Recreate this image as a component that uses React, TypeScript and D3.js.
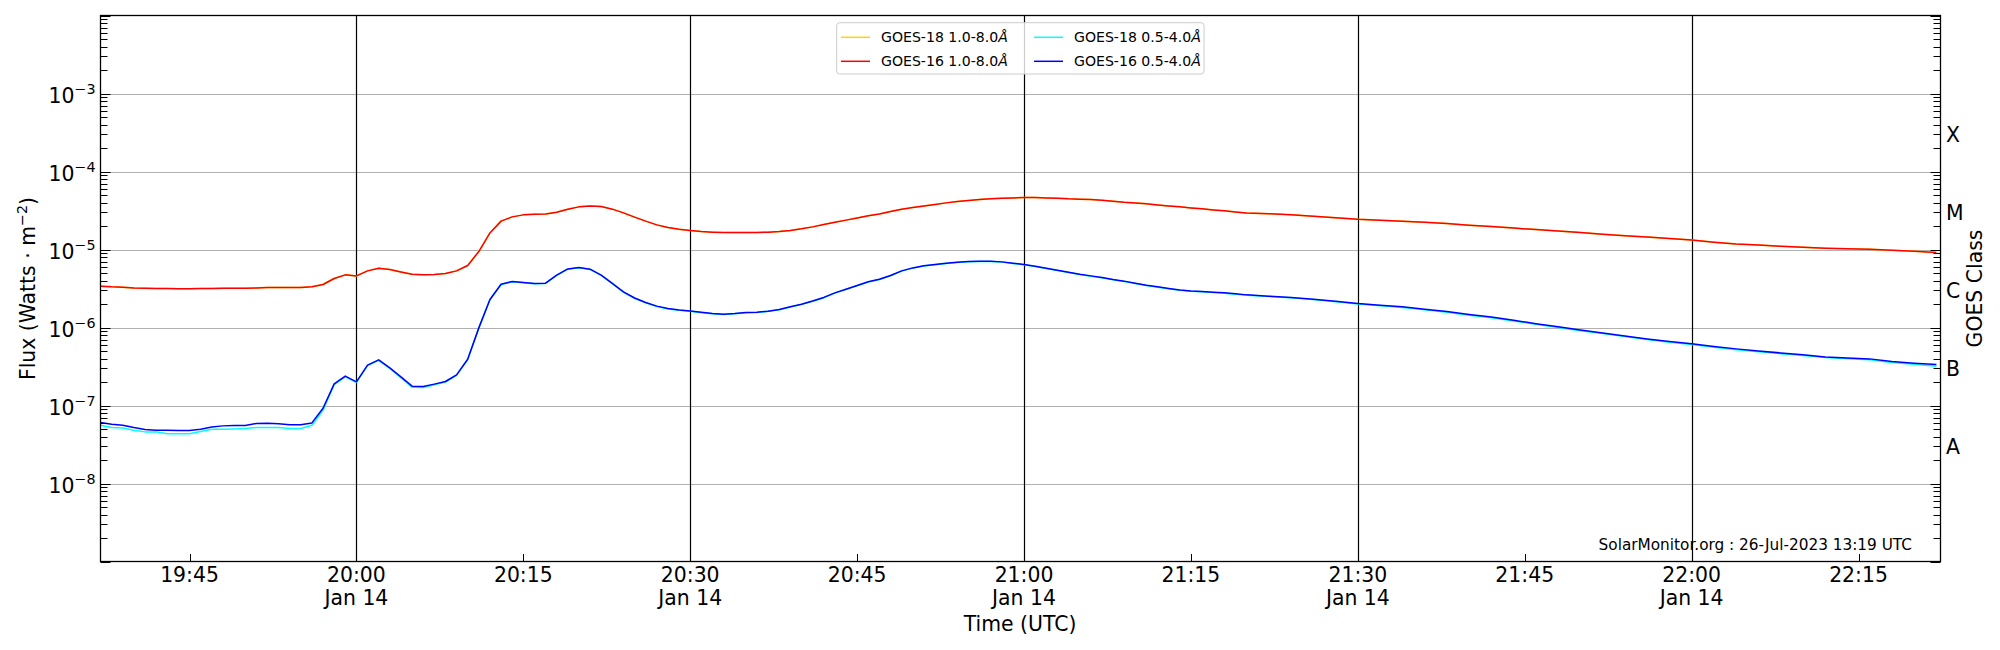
import React from 'react';
import * as d3 from 'd3';

// one-minute samples up to 21:20, then every second minute
const times = [
  '19:37', '19:38', '19:39', '19:40', '19:41', '19:42', '19:43', '19:44', '19:45', '19:46', '19:47', '19:48',
  '19:49', '19:50', '19:51', '19:52', '19:53', '19:54', '19:55', '19:56', '19:57', '19:58', '19:59',
  '20:00', '20:01', '20:02', '20:03', '20:04', '20:05', '20:06', '20:07', '20:08', '20:09',
  '20:10', '20:11', '20:12', '20:13', '20:14', '20:15', '20:16', '20:17', '20:18', '20:19',
  '20:20', '20:21', '20:22', '20:23', '20:24', '20:25', '20:26', '20:27', '20:28', '20:29',
  '20:30', '20:31', '20:32', '20:33', '20:34', '20:35', '20:36', '20:37', '20:38', '20:39',
  '20:40', '20:41', '20:42', '20:43', '20:44', '20:45', '20:46', '20:47', '20:48', '20:49',
  '20:50', '20:51', '20:52', '20:53', '20:54', '20:55', '20:56', '20:57', '20:58', '20:59',
  '21:00', '21:01', '21:02', '21:03', '21:04', '21:05', '21:06', '21:07', '21:08', '21:09',
  '21:10', '21:11', '21:12', '21:13', '21:14', '21:15', '21:16', '21:17', '21:18', '21:19', '21:20',
  '21:22', '21:24', '21:26', '21:28', '21:30', '21:32', '21:34', '21:36', '21:38', '21:40',
  '21:42', '21:44', '21:46', '21:48', '21:50', '21:52', '21:54', '21:56', '21:58', '22:00',
  '22:02', '22:04', '22:06', '22:08', '22:10', '22:12', '22:14', '22:16', '22:18', '22:20', '22:22',
];

const goes16Long = [
  3.38e-6, 3.32e-6, 3.29e-6, 3.22e-6, 3.19e-6, 3.16e-6, 3.16e-6, 3.13e-6, 3.13e-6, 3.16e-6, 3.16e-6, 3.19e-6,
  3.19e-6, 3.19e-6, 3.22e-6, 3.26e-6, 3.26e-6, 3.26e-6, 3.26e-6, 3.32e-6, 3.56e-6, 4.25e-6, 4.73e-6,
  4.59e-6, 5.32e-6, 5.75e-6, 5.53e-6, 5.16e-6, 4.82e-6, 4.73e-6, 4.78e-6, 4.92e-6, 5.32e-6,
  6.24e-6, 9.42e-6, 1.63e-5, 2.31e-5, 2.62e-5, 2.78e-5, 2.84e-5, 2.86e-5, 3.01e-5, 3.29e-5,
  3.52e-5, 3.62e-5, 3.56e-5, 3.29e-5, 2.95e-5, 2.6e-5, 2.31e-5, 2.07e-5, 1.91e-5, 1.82e-5,
  1.75e-5, 1.7e-5, 1.67e-5, 1.65e-5, 1.65e-5, 1.65e-5, 1.65e-5, 1.67e-5, 1.7e-5, 1.75e-5,
  1.84e-5, 1.95e-5, 2.09e-5, 2.24e-5, 2.38e-5, 2.54e-5, 2.7e-5, 2.86e-5, 3.07e-5, 3.29e-5,
  3.45e-5, 3.62e-5, 3.78e-5, 3.96e-5, 4.12e-5, 4.25e-5, 4.38e-5, 4.46e-5, 4.55e-5, 4.59e-5,
  4.63e-5, 4.63e-5, 4.59e-5, 4.55e-5, 4.46e-5, 4.42e-5, 4.38e-5, 4.29e-5, 4.16e-5, 4.04e-5,
  3.96e-5, 3.85e-5, 3.73e-5, 3.62e-5, 3.52e-5, 3.41e-5, 3.32e-5, 3.22e-5, 3.13e-5, 3.03e-5, 2.94e-5,
  2.88e-5, 2.78e-5, 2.67e-5, 2.56e-5, 2.45e-5, 2.38e-5, 2.31e-5, 2.24e-5, 2.15e-5, 2.05e-5,
  1.97e-5, 1.88e-5, 1.8e-5, 1.73e-5, 1.65e-5, 1.57e-5, 1.5e-5, 1.45e-5, 1.38e-5, 1.32e-5,
  1.24e-5, 1.18e-5, 1.14e-5, 1.1e-5, 1.07e-5, 1.04e-5, 1.02e-5, 1.01e-5, 9.8e-6, 9.5e-6, 9.15e-6,
];

// GOES-18 long channel sits right under the GOES-16 one in the picture
const goes18Long = goes16Long;

const goes16Short = [
  6.05e-8, 5.75e-8, 5.59e-8, 5.22e-8, 4.92e-8, 4.83e-8, 4.83e-8, 4.78e-8, 4.78e-8, 4.97e-8, 5.31e-8, 5.48e-8,
  5.53e-8, 5.53e-8, 5.87e-8, 5.93e-8, 5.82e-8, 5.65e-8, 5.65e-8, 5.98e-8, 9.23e-8, 1.89e-7, 2.38e-7,
  2.01e-7, 3.29e-7, 3.85e-7, 3.03e-7, 2.33e-7, 1.77e-7, 1.75e-7, 1.88e-7, 2.03e-7, 2.47e-7,
  3.92e-7, 9.89e-7, 2.29e-6, 3.59e-6, 3.89e-6, 3.78e-6, 3.67e-6, 3.7e-6, 4.69e-6, 5.64e-6,
  5.87e-6, 5.59e-6, 4.69e-6, 3.67e-6, 2.86e-6, 2.39e-6, 2.09e-6, 1.88e-6, 1.75e-6, 1.68e-6,
  1.63e-6, 1.57e-6, 1.51e-6, 1.48e-6, 1.51e-6, 1.56e-6, 1.57e-6, 1.62e-6, 1.7e-6, 1.84e-6,
  1.99e-6, 2.19e-6, 2.43e-6, 2.78e-6, 3.1e-6, 3.45e-6, 3.85e-6, 4.16e-6, 4.64e-6, 5.32e-6,
  5.81e-6, 6.17e-6, 6.41e-6, 6.67e-6, 6.87e-6, 7.01e-6, 7.08e-6, 7.08e-6, 6.94e-6, 6.67e-6,
  6.41e-6, 6.11e-6, 5.75e-6, 5.43e-6, 5.12e-6, 4.82e-6, 4.59e-6, 4.38e-6, 4.12e-6, 3.93e-6,
  3.7e-6, 3.49e-6, 3.32e-6, 3.16e-6, 3.03e-6, 2.94e-6, 2.9e-6, 2.84e-6, 2.78e-6, 2.7e-6, 2.62e-6,
  2.52e-6, 2.43e-6, 2.31e-6, 2.17e-6, 2.03e-6, 1.93e-6, 1.84e-6, 1.72e-6, 1.6e-6, 1.47e-6,
  1.36e-6, 1.24e-6, 1.12e-6, 1.02e-6, 9.3e-7, 8.53e-7, 7.8e-7, 7.14e-7, 6.61e-7, 6.17e-7,
  5.7e-7, 5.32e-7, 5.01e-7, 4.72e-7, 4.46e-7, 4.2e-7, 4.07e-7, 3.96e-7, 3.66e-7, 3.48e-7, 3.35e-7,
];

const goes18Short = [
  5.59e-8, 5.22e-8, 5.16e-8, 4.83e-8, 4.59e-8, 4.59e-8, 4.33e-8, 4.33e-8, 4.33e-8, 4.64e-8, 4.97e-8, 4.97e-8,
  5.01e-8, 5.06e-8, 5.22e-8, 5.22e-8, 5.22e-8, 5.06e-8, 5.06e-8, 5.59e-8, 8.71e-8, 1.85e-7, 2.33e-7,
  1.98e-7, 3.25e-7, 3.8e-7, 2.98e-7, 2.28e-7, 1.72e-7, 1.7e-7, 1.84e-7, 2.0e-7, 2.43e-7,
  3.88e-7, 9.8e-7, 2.27e-6, 3.55e-6, 3.85e-6, 3.75e-6, 3.64e-6, 3.67e-6, 4.65e-6, 5.6e-6,
  5.83e-6, 5.55e-6, 4.65e-6, 3.64e-6, 2.83e-6, 2.37e-6, 2.07e-6, 1.86e-6, 1.73e-6, 1.66e-6,
  1.61e-6, 1.55e-6, 1.5e-6, 1.47e-6, 1.5e-6, 1.55e-6, 1.56e-6, 1.61e-6, 1.69e-6, 1.83e-6,
  1.98e-6, 2.17e-6, 2.41e-6, 2.76e-6, 3.08e-6, 3.43e-6, 3.82e-6, 4.13e-6, 4.61e-6, 5.28e-6,
  5.77e-6, 6.13e-6, 6.37e-6, 6.63e-6, 6.83e-6, 6.97e-6, 7.04e-6, 7.04e-6, 6.9e-6, 6.63e-6,
  6.37e-6, 6.07e-6, 5.71e-6, 5.39e-6, 5.08e-6, 4.78e-6, 4.55e-6, 4.34e-6, 4.08e-6, 3.9e-6,
  3.67e-6, 3.46e-6, 3.29e-6, 3.13e-6, 3.0e-6, 2.91e-6, 2.87e-6, 2.81e-6, 2.75e-6, 2.67e-6, 2.59e-6,
  2.49e-6, 2.4e-6, 2.28e-6, 2.14e-6, 2.0e-6, 1.9e-6, 1.81e-6, 1.69e-6, 1.57e-6, 1.44e-6,
  1.33e-6, 1.21e-6, 1.1e-6, 1.0e-6, 9.1e-7, 8.35e-7, 7.65e-7, 7.0e-7, 6.48e-7, 6.05e-7,
  5.58e-7, 5.2e-7, 4.9e-7, 4.62e-7, 4.37e-7, 4.12e-7, 3.98e-7, 3.86e-7, 3.57e-7, 3.38e-7, 3.19e-7,
];

const seriesNames = ['GOES-18 1.0-8.0', 'GOES-16 1.0-8.0', 'GOES-18 0.5-4.0', 'GOES-16 0.5-4.0'];
const seriesColors = ['#ffd700', '#ff0000', '#00ffff', '#0000ff'];
const seriesValues = [goes18Long, goes16Long, goes18Short, goes16Short];

const classLetters = ['X', 'M', 'C', 'B', 'A'];
const classLevels = [3e-4, 3e-5, 3e-6, 3e-7, 3e-8];
const labelledDecades = [-3, -4, -5, -6, -7, -8];

const dayLabel = 'Jan 14';
const stamp = 'SolarMonitor.org : 26-Jul-2023 13:19 UTC';

const W = 2000;
const H = 650;
const left = 100.5;
const right = 1940.5;
const top = 15.5;
const bottom = 561.5;
const FONT = '"DejaVu Sans", "Liberation Sans", sans-serif';
const FS = 20.4;

const parse = d3.utcParse('%H:%M');

export default function App() {
  const t0 = parse('19:37') as Date;
  const t1 = new Date((parse('22:22') as Date).getTime() + 22000);
  const x = d3.scaleUtc().domain([t0, t1]).range([left, right]);
  const y = d3.scaleLog().domain([1e-9, 1e-2]).range([bottom, top]);

  const dates = times.map(s => parse(s) as Date);
  const line = d3.line<number>()
    .x((_, i) => x(dates[i]))
    .y(d => y(d));

  const decades = d3.range(-9, -1).map(e => Math.pow(10, e));
  const minors: number[] = [];
  d3.range(-9, -2).forEach(e => {
    for (let m = 2; m <= 9; m++) minors.push(m * Math.pow(10, e));
  });

  const xTicks = x.ticks(d3.utcMinute.every(15) as d3.TimeInterval);
  const isMajor = (d: Date) => d.getUTCMinutes() % 30 === 0;
  const fmt = d3.utcFormat('%H:%M');
  // snap 1px rules to the pixel grid so they stay solid black
  const px = (v: number) => Math.round(v) + 0.5;

  return (
    <svg width={W} height={H} style={{ position: 'absolute', left: 0, top: 0, background: '#fff' }}
      fontFamily={FONT}>
      <rect x={0} y={0} width={W} height={H} fill="#fff" />

      {/* horizontal grid at decades */}
      {decades.filter(v => v > 1e-9 && v < 1e-2).map(v => (
        <line key={'g' + v} x1={left} x2={right} y1={px(y(v))} y2={px(y(v))} stroke="#b0b0b0" strokeWidth={1} />
      ))}

      {/* black lines on the half hours */}
      {xTicks.filter(isMajor).map(d => (
        <line key={'v' + d.getTime()} x1={px(x(d))} x2={px(x(d))} y1={top} y2={bottom} stroke="#000" strokeWidth={1.2} />
      ))}

      {/* curves */}
      {seriesValues.map((vals, i) => (
        <path key={seriesNames[i]} d={line(vals) || ''} fill="none" stroke={seriesColors[i]}
          strokeWidth={1.5} strokeLinejoin="round" />
      ))}

      {/* y ticks, inward on both sides */}
      {decades.map(v => (
        <g key={'yt' + v}>
          <line x1={left} x2={left + 10} y1={px(y(v))} y2={px(y(v))} stroke="#000" />
          <line x1={right} x2={right - 10} y1={px(y(v))} y2={px(y(v))} stroke="#000" />
        </g>
      ))}
      {minors.map(v => (
        <g key={'ym' + v}>
          <line x1={left} x2={left + 7} y1={px(y(v))} y2={px(y(v))} stroke="#000" />
          <line x1={right} x2={right - 7} y1={px(y(v))} y2={px(y(v))} stroke="#000" />
        </g>
      ))}

      {/* x minor ticks */}
      {xTicks.filter(d => !isMajor(d)).map(d => (
        <line key={'xt' + d.getTime()} x1={px(x(d))} x2={px(x(d))} y1={bottom} y2={bottom - 7.5} stroke="#000" />
      ))}

      {/* frame */}
      <rect x={left} y={top} width={right - left} height={bottom - top} fill="none" stroke="#000" strokeWidth={1.3} />

      {/* y tick labels */}
      {labelledDecades.map(e => (
        <text key={'yl' + e} x={95.5} y={y(Math.pow(10, e)) + 9} textAnchor="end" fontSize={FS} fill="#000">
          10<tspan dy={-8.4} fontSize={14.3}>{'\u2212' + Math.abs(e)}</tspan>
        </text>
      ))}

      {/* x tick labels */}
      {xTicks.map(d => (
        <g key={'xl' + d.getTime()}>
          <text x={x(d)} y={581.7} textAnchor="middle" fontSize={FS} fill="#000">{fmt(d)}</text>
          {isMajor(d) && (
            <text x={x(d)} y={605} textAnchor="middle" fontSize={FS} fill="#000">{dayLabel}</text>
          )}
        </g>
      ))}

      {/* GOES class letters */}
      {classLetters.map((c, i) => (
        <text key={c} x={1946} y={y(classLevels[i]) + 7.3} fontSize={FS} fill="#000">{c}</text>
      ))}

      {/* axis titles */}
      <text transform={`translate(35,${(top + bottom) / 2}) rotate(-90)`} textAnchor="middle" fontSize={FS} fill="#000">
        Flux (Watts · m<tspan dy={-8} fontSize={14.3}>{'\u22122'}</tspan><tspan dy={8}>)</tspan>
      </text>
      <text transform={`translate(1982,${(top + bottom) / 2}) rotate(-90)`} textAnchor="middle" fontSize={FS} fill="#000">
        GOES Class
      </text>
      <text x={(left + right) / 2 - 0.5} y={630.7} textAnchor="middle" fontSize={FS} fill="#000">Time (UTC)</text>

      <text x={1912} y={550} textAnchor="end" fontSize={15.3} fill="#000">{stamp}</text>

      {/* legend */}
      <g>
        <rect x={836.7} y={22.7} width={367.3} height={51.3} rx={3} fill="#fff" fillOpacity={0.8} stroke="#cccccc" />
        {seriesNames.map((name, i) => {
          const col = Math.floor(i / 2);
          const row = i % 2;
          const lx = 841 + col * 193;
          const ly = 37.3 + row * 24;
          return (
            <g key={'lg' + name}>
              <line x1={lx} x2={lx + 29} y1={ly} y2={ly} stroke={seriesColors[i]} strokeWidth={1.5} />
              <text x={lx + 40} y={ly + 5} fontSize={14.1} fill="#000">
                {name}<tspan fontStyle="italic">Å</tspan>
              </text>
            </g>
          );
        })}
      </g>
    </svg>
  );
}
